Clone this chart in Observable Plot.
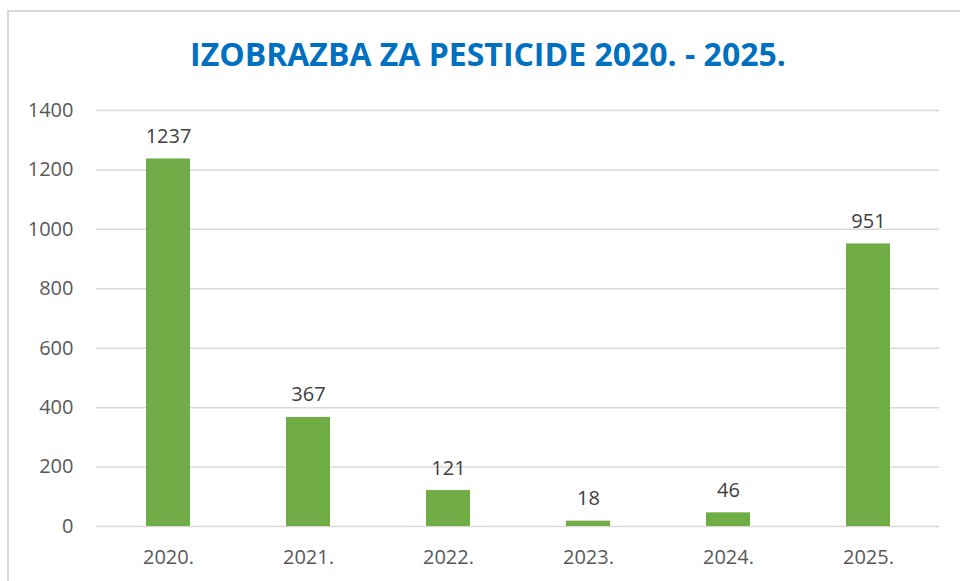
<!DOCTYPE html>
<html>
<head>
<meta charset="utf-8">
<script src="https://cdn.jsdelivr.net/npm/d3@7"></script>
<script src="https://cdn.jsdelivr.net/npm/@observablehq/plot@0.6"></script>
<style>
  html, body { margin: 0; padding: 0; background: #fff; }
  #wrap { position: relative; width: 960px; height: 581px; overflow: hidden; }
  #frame { position: absolute; left: 7px; top: 10px; width: 1000px; height: 700px; border: 2px solid #d9d9d9; box-sizing: border-box; }
  #title { position: absolute; left: 0; width: 976px; top: 34px; text-align: center; font-family: "Open Sans", sans-serif; font-weight: 700; font-size: 32px; color: #0070C0; line-height: 40px; white-space: nowrap; }
  #chart { position: absolute; left: 0; top: 0; }
</style>
</head>
<body>
<div id="wrap">
  <div id="frame"></div>
  <div id="title">IZOBRAZBA ZA PESTICIDE 2020. - 2025.</div>
  <div id="chart"></div>
</div>
<script>
const years = ["2020.", "2021.", "2022.", "2023.", "2024.", "2025."];
const counts = [1237, 367, 121, 18, 46, 951];
const yTicks = [0, 200, 400, 600, 800, 1000, 1200, 1400];

const data = years.map((y, i) => ({year: y, count: counts[i]}));

const chart = Plot.plot({
  width: 960,
  height: 581,
  marginLeft: 96,
  marginRight: 21,
  marginTop: 110,
  marginBottom: 55,
  style: {fontFamily: "'Open Sans', sans-serif", fontSize: "20px", color: "#595959", background: "transparent"},
  x: {domain: years, paddingInner: 0.687, paddingOuter: 0.3435, label: null},
  y: {domain: [0, 1400], label: null},
  marks: [
    Plot.ruleY(yTicks, {stroke: "#d9d9d9", strokeWidth: 1.5}),
    Plot.barY(data, {x: "year", y: "count", fill: "#70AD47"}),
    Plot.text(data, {x: "year", y: "count", text: d => String(d.count), dy: -16, lineAnchor: "bottom", fill: "#404040", fontSize: 20}),
    Plot.axisY(yTicks, {tickSize: 0, tickPadding: 23, fontSize: 20, fill: "#595959", label: null, tickFormat: d => String(d)}),
    Plot.axisX({tickSize: 0, tickPadding: 23, fontSize: 20, fill: "#595959", label: null})
  ]
});
document.getElementById("chart").appendChild(chart);
</script>
</body>
</html>
